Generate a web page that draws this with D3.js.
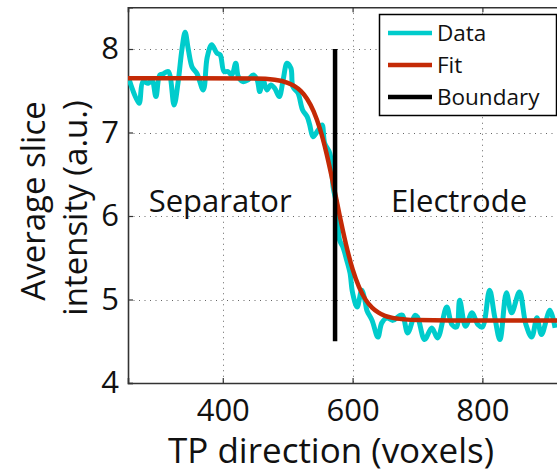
<!DOCTYPE html>
<html>
<head>
<meta charset="utf-8">
<script src="https://cdn.jsdelivr.net/npm/d3@7"></script>
<style>
  html, body { margin: 0; padding: 0; background: #fff; }
  svg { display: block; }
  text { font-family: "Open Sans", "Noto Sans", sans-serif; fill: #111; }
</style>
</head>
<body>
<svg id="chart" width="557" height="475"></svg>
<script>
// Measured slice intensity along the TP direction
const dataX = [256, 271, 277, 285, 291, 297, 303, 308, 316, 325, 331, 337, 342, 347, 353, 360, 370, 376, 383, 391, 396, 402, 408, 414, 420, 424, 431, 439, 447, 453, 457, 462, 468, 474, 480, 487, 493, 499, 505, 508, 516, 523, 530, 534, 539, 547, 553, 557, 565, 570, 576, 580, 585, 591, 596, 600, 607, 614, 619, 622, 630, 639, 645, 653, 662, 673, 677, 685, 696, 700, 711, 722, 731, 745, 753, 760, 765, 774, 784, 793, 800, 811, 819, 827, 837, 845, 857, 867, 876, 884, 891, 904, 912];
const dataY = [7.63, 7.35, 7.61, 7.59, 7.63, 7.43, 7.69, 7.70, 7.73, 7.33, 7.59, 7.99, 8.20, 7.99, 7.78, 7.71, 7.51, 7.90, 8.05, 7.95, 7.93, 7.73, 7.73, 7.69, 7.83, 7.67, 7.61, 7.63, 7.69, 7.63, 7.49, 7.63, 7.51, 7.57, 7.53, 7.43, 7.63, 7.83, 7.77, 7.55, 7.47, 7.27, 7.19, 7.09, 6.95, 7.03, 7.09, 6.87, 6.75, 6.35, 6.11, 5.71, 5.63, 5.47, 5.32, 5.08, 4.91, 5.11, 4.99, 4.87, 4.75, 4.55, 4.72, 4.78, 4.75, 4.81, 4.81, 4.60, 4.81, 4.79, 4.52, 4.66, 4.54, 4.91, 4.70, 4.67, 4.99, 4.68, 4.84, 4.70, 4.67, 5.11, 4.79, 4.52, 5.08, 4.84, 5.09, 4.70, 4.55, 4.78, 4.58, 4.87, 4.66];

// Sigmoid fit, sampled
const fitX = [254, 350, 450, 480, 500, 510, 520, 530, 540, 550, 560, 565, 570, 575, 580, 585, 590, 600, 610, 620, 630, 640, 650, 660, 680, 700, 750, 916];
const fitY = [7.65, 7.65, 7.646, 7.631, 7.595, 7.558, 7.498, 7.402, 7.253, 7.037, 6.744, 6.573, 6.389, 6.20, 6.010, 5.827, 5.656, 5.363, 5.147, 4.998, 4.902, 4.842, 4.805, 4.783, 4.762, 4.754, 4.75, 4.75];

// Separator / electrode boundary
const boundaryX = 573;
const boundaryY = [4.5, 8];

const xTicks = [400, 600, 800];
const yTicks = [4, 5, 6, 7, 8];
const xDomain = [254, 916];
const yDomain = [4, 8.5];

const legendLabels = ["Data", "Fit", "Boundary"];
const colors = { data: "#00cccc", fit: "#c42a06", boundary: "#000000" };
const legendColors = [colors.data, colors.fit, colors.boundary];

const svg = d3.select("#chart");
const plotLeft = 128, plotTop = 7.25, plotBottom = 383, plotRight = 557.7;

const x = d3.scaleLinear().domain(xDomain).range([plotLeft, plotRight]);
const y = d3.scaleLinear().domain(yDomain).range([plotBottom, plotTop]);

svg.append("defs").append("clipPath").attr("id", "plotclip")
  .append("rect").attr("x", plotLeft).attr("y", plotTop)
  .attr("width", plotRight - plotLeft).attr("height", plotBottom - plotTop);

// grid
const grid = svg.append("g").attr("stroke", "#666").attr("stroke-width", 1).attr("stroke-dasharray", "1,4.5");
grid.selectAll("line.gx").data(xTicks).join("line").attr("class", "gx")
  .attr("x1", d => Math.round(x(d)) + 0.5).attr("x2", d => Math.round(x(d)) + 0.5)
  .attr("y1", plotTop).attr("y2", plotBottom);
grid.selectAll("line.gy").data(yTicks.filter(d => d > 4)).join("line").attr("class", "gy")
  .attr("y1", d => Math.round(y(d)) + 0.5).attr("y2", d => Math.round(y(d)) + 0.5)
  .attr("x1", plotLeft).attr("x2", plotRight);

// axes
const xAxis = d3.axisBottom(x).tickValues(xTicks).tickSize(-5).tickPadding(16).tickFormat(d3.format("d"));
const yAxis = d3.axisLeft(y).tickValues(yTicks).tickSize(-5).tickPadding(9).tickFormat(d3.format("d"));
const xTop = d3.axisTop(x).tickValues(xTicks).tickSize(-5).tickFormat("");

const gx = svg.append("g").attr("transform", `translate(0,${plotBottom})`).call(xAxis);
const gy = svg.append("g").attr("transform", `translate(${plotLeft},0)`).call(yAxis);
const gt = svg.append("g").attr("transform", `translate(0,${plotTop})`).call(xTop);
[gx, gy, gt].forEach(g => {
  g.select(".domain").attr("stroke", "#333").attr("stroke-width", 1.6);
  g.selectAll(".tick line").attr("stroke", "#333").attr("stroke-width", 1.2);
  g.selectAll("text").attr("font-size", 31).attr("fill", "#111")
    .style("font-family", "'Open Sans', 'Noto Sans', sans-serif");
});
gx.selectAll("text").attr("dy", "0.71em");

// lines
const plot = svg.append("g").attr("clip-path", "url(#plotclip)");
const dataLine = d3.line().x(d => x(d[0])).y(d => y(d[1])).curve(d3.curveCatmullRom.alpha(0.5));
const fitLine = d3.line().x(d => x(d[0])).y(d => y(d[1])).curve(d3.curveMonotoneX);

plot.append("path").datum(d3.zip(dataX, dataY))
  .attr("fill", "none").attr("stroke", colors.data).attr("stroke-width", 5)
  .attr("stroke-linejoin", "round").attr("d", dataLine);
plot.append("path").datum(d3.zip(fitX, fitY))
  .attr("fill", "none").attr("stroke", colors.fit).attr("stroke-width", 4.5)
  .attr("d", fitLine);
plot.append("line")
  .attr("x1", x(boundaryX)).attr("x2", x(boundaryX))
  .attr("y1", y(boundaryY[0])).attr("y2", y(boundaryY[1]))
  .attr("stroke", colors.boundary).attr("stroke-width", 4.5);

// region labels
svg.append("text").attr("x", x(396)).attr("y", y(6.05)).attr("text-anchor", "middle")
  .attr("font-size", 31).text("Separator");
svg.append("text").attr("x", x(764)).attr("y", y(6.05)).attr("text-anchor", "middle")
  .attr("font-size", 31).text("Electrode");

// axis titles
svg.append("text").attr("x", 331).attr("y", 463).attr("text-anchor", "middle")
  .attr("font-size", 35).attr("fill", "#222").text("TP direction (voxels)");
const yt = svg.append("text").attr("transform", "translate(0,204) rotate(-90)")
  .attr("text-anchor", "middle").attr("font-size", 33).attr("fill", "#222");
yt.append("tspan").attr("x", 3).attr("y", 45).text("Average slice");
yt.append("tspan").attr("x", -4).attr("y", 87).text("intensity (a.u.)");

// legend
const lg = svg.append("g");
lg.append("rect").attr("x", 379.5).attr("y", 14.5).attr("width", 177).attr("height", 101)
  .attr("fill", "#fff").attr("stroke", "#000").attr("stroke-width", 1.5);
legendLabels.forEach((lab, i) => {
  const yy = 33 + i * 32;
  lg.append("line").attr("x1", 388).attr("x2", 432).attr("y1", yy).attr("y2", yy)
    .attr("stroke", legendColors[i]).attr("stroke-width", 4.5);
  lg.append("text").attr("x", 437).attr("y", yy).attr("dy", "0.35em")
    .attr("font-size", 22.5).text(lab);
});
</script>
</body>
</html>
